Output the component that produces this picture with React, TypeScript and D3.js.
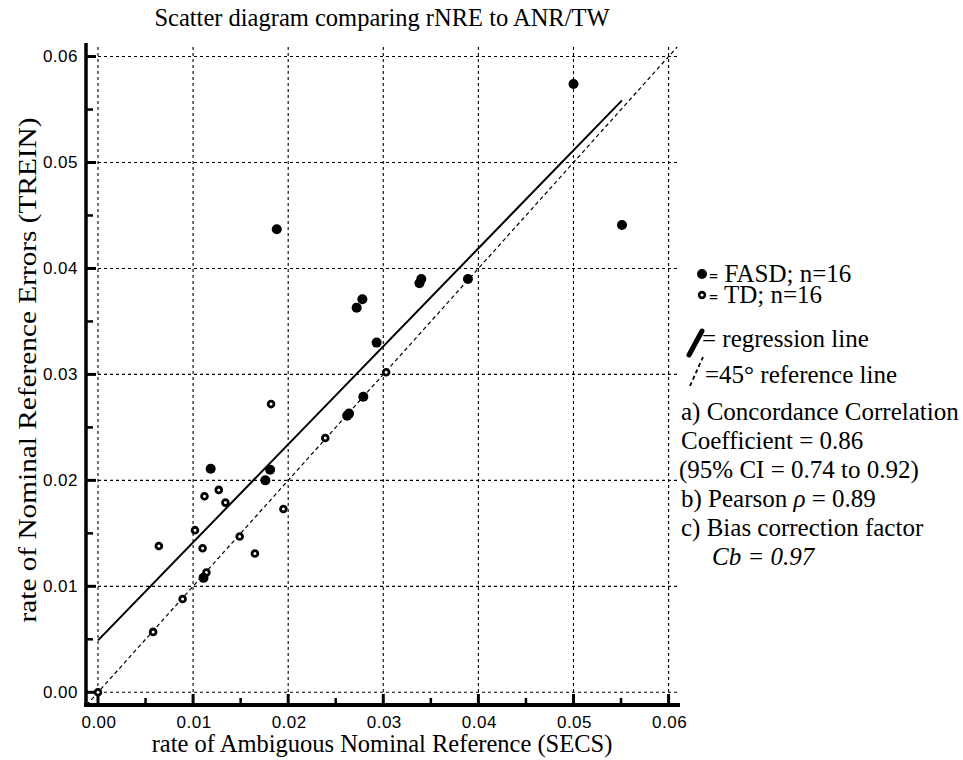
import React from "react";
import * as d3 from "d3";

const fasdX = [0.0500, 0.0551, 0.0188, 0.0272, 0.0278, 0.0338, 0.0340, 0.0389, 0.0293, 0.0279, 0.0262, 0.0264, 0.01185, 0.0181, 0.0176, 0.0111];
const fasdY = [0.0574, 0.0441, 0.0437, 0.0363, 0.0371, 0.0386, 0.0390, 0.0390, 0.0330, 0.0279, 0.0261, 0.0263, 0.0211, 0.0210, 0.0200, 0.0108];
const tdX = [0.0303, 0.0182, 0.0239, 0.0127, 0.0112, 0.0134, 0.0195, 0.0102, 0.0149, 0.0064, 0.0110, 0.0165, 0.0114, 0.0089, 0.0058, 0.0];
const tdY = [0.0302, 0.0272, 0.0240, 0.0191, 0.0185, 0.0179, 0.0173, 0.0153, 0.0147, 0.0138, 0.0136, 0.0131, 0.0113, 0.0088, 0.0057, 0.0];
const tickValues = [0, 0.01, 0.02, 0.03, 0.04, 0.05, 0.06];
const minorTicks = [0.005, 0.015, 0.025, 0.035, 0.045, 0.055];
const regression = { intercept: 0.0049, slope: 0.925, xStart: 0.0, xEnd: 0.0551 };
const refLine = [-0.0012, 0.0609];
const title = "Scatter diagram comparing rNRE to ANR/TW";
const xTitle = "rate of Ambiguous Nominal Reference (SECS)";
const yTitle = "rate of Nominal Reference Errors (TREIN)";
const statLines = [
  "a) Concordance Correlation",
  "Coefficient = 0.86",
  "(95% CI = 0.74 to 0.92)",
];

const serif = "'Liberation Serif', 'Times New Roman', serif";
const sans = "'Liberation Sans', Arial, sans-serif";

export default function App() {
  const x = d3.scaleLinear().domain([-0.00126, 0.0612]).range([86, 680]);
  const y = d3.scaleLinear().domain([-0.0012, 0.0609]).range([705, 47]);
  const fmt = d3.format(".2f");
  const regLine = d3.line<number>()
    .x((d) => x(d))
    .y((d) => y(regression.intercept + regression.slope * d));
  const x0 = x.range()[0];
  const x1 = x.range()[1];
  const y0 = y.range()[0];
  const y1 = y.range()[1];
  const lf = 25;

  return (
    <svg width={963} height={760} style={{ position: "absolute", left: 0, top: 0, background: "#fff" }}>
      <rect x={0} y={0} width={963} height={760} fill="#fff" />
      <text x={382} y={26} textAnchor="middle" fontFamily={serif} fontSize={24.5}>{title}</text>

      {/* grid */}
      {tickValues.map((t) => (
        <line key={"gh" + t} x1={x0} x2={x1 - 3} y1={y(t)} y2={y(t)} stroke="#000" strokeWidth={1.1} strokeDasharray="3,3" />
      ))}
      {tickValues.map((t) => (
        <line key={"gv" + t} x1={x(t)} x2={x(t)} y1={y1} y2={y0} stroke="#000" strokeWidth={1.1} strokeDasharray="3,3" />
      ))}

      {/* reference line */}
      <line x1={x(refLine[0])} y1={y(refLine[0])} x2={x(refLine[1])} y2={y(refLine[1])} stroke="#000" strokeWidth={1.2} strokeDasharray="4,3" />
      {/* regression line */}
      <path d={regLine([regression.xStart, regression.xEnd]) || ""} stroke="#000" strokeWidth={2} fill="none" />

      {/* axes */}
      <line x1={x0} x2={x0} y1={43} y2={y0 + 2} stroke="#000" strokeWidth={3.5} />
      <line x1={x0 - 2} x2={x1} y1={y0} y2={y0} stroke="#000" strokeWidth={4} />
      {tickValues.map((t) => (
        <g key={"yt" + t}>
          <line x1={x0} x2={x0 + 10} y1={y(t)} y2={y(t)} stroke="#000" strokeWidth={3} />
          <text x={x0 - 8} y={y(t)} dy="0.35em" textAnchor="end" fontFamily={sans} fontSize={17} letterSpacing={0.5}>{fmt(t)}</text>
        </g>
      ))}
      {minorTicks.map((t) => (
        <line key={"ym" + t} x1={x0} x2={x0 + 7} y1={y(t)} y2={y(t)} stroke="#000" strokeWidth={2.5} />
      ))}
      {tickValues.map((t) => (
        <g key={"xt" + t}>
          <line x1={x(t)} x2={x(t)} y1={y0} y2={y0 - 11} stroke="#000" strokeWidth={3} />
          <text x={x(t) + 1} y={728} textAnchor="middle" fontFamily={sans} fontSize={17} letterSpacing={0.5}>{fmt(t)}</text>
        </g>
      ))}
      {minorTicks.map((t) => (
        <line key={"xm" + t} x1={x(t)} x2={x(t)} y1={y0} y2={y0 - 7} stroke="#000" strokeWidth={2.5} />
      ))}

      {/* points */}
      {tdX.map((v, i) => (
        <circle key={"td" + i} cx={x(v)} cy={y(tdY[i])} r={2.9} fill="#fff" stroke="#000" strokeWidth={2.8} />
      ))}
      {fasdX.map((v, i) => (
        <circle key={"fa" + i} cx={x(v)} cy={y(fasdY[i])} r={5} fill="#000" />
      ))}

      {/* axis titles */}
      <text x={382} y={752} textAnchor="middle" fontFamily={serif} fontSize={24.5}>{xTitle}</text>
      <text transform="translate(36,370) rotate(-90)" textAnchor="middle" fontFamily={serif} fontSize={24.5} textLength={505} lengthAdjust="spacingAndGlyphs">{yTitle}</text>

      {/* legend */}
      <circle cx={702} cy={274} r={5} fill="#000" />
      <text x={709} y={282} fontFamily={serif} fontSize={lf}><tspan fontSize={16} fontWeight="bold">=</tspan> FASD; n=16</text>
      <circle cx={702} cy={295} r={2.9} fill="#fff" stroke="#000" strokeWidth={2.6} />
      <text x={709} y={303} fontFamily={serif} fontSize={lf}><tspan fontSize={16} fontWeight="bold">=</tspan> TD; n=16</text>

      <line x1={689} y1={355} x2={702} y2={331} stroke="#000" strokeWidth={5} strokeLinecap="round" />
      <text x={702} y={347} fontFamily={serif} fontSize={lf}>= regression line</text>
      <line x1={690} y1={386} x2={703} y2={357} stroke="#000" strokeWidth={1.8} strokeDasharray="4,3" />
      <text x={705} y={383} fontFamily={serif} fontSize={lf}>=45° reference line</text>

      {statLines.map((s, i) => (
        <text key={s} x={i === 2 ? 679 : 681} y={420 + i * 29} fontFamily={serif} fontSize={lf}>{s}</text>
      ))}
      <text x={681} y={507} fontFamily={serif} fontSize={lf}>b) Pearson <tspan fontStyle="italic">ρ</tspan> = 0.89</text>
      <text x={681} y={536} fontFamily={serif} fontSize={lf}>c) Bias correction factor</text>
      <text x={712} y={565} fontFamily={serif} fontSize={lf} fontStyle="italic">Cb = 0.97</text>
    </svg>
  );
}
